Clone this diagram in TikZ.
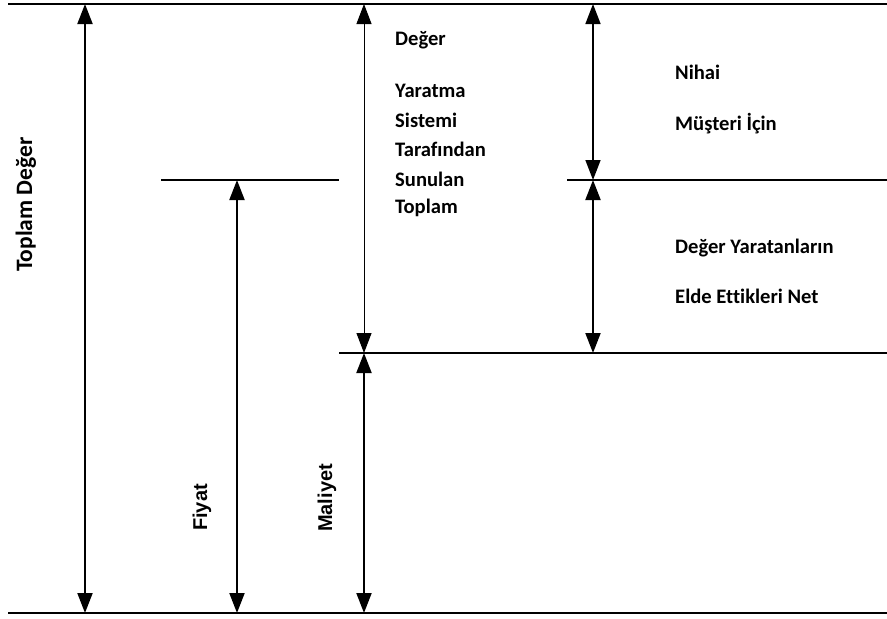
\documentclass[tikz,border=0pt]{standalone}
\usepackage{fontspec}
\setmainfont{Carlito}[Ligatures={NoCommon}]
\newfontfamily\arialf{Liberation Sans}
\usetikzlibrary{arrows.meta}
\begin{document}
\begin{tikzpicture}[x=1pt,y=-1pt,
  tip/.tip={Triangle[length=20pt,width=15pt]},
  dimthick/.style={tip-tip, line width=2pt},
  dimmid/.style={tip-tip, line width=1.5pt},
  dimthin/.style={tip-tip, line width=1pt},
  level/.style={line width=1.8pt},
  lbl/.style={font=\fontsize{20.6}{24}\selectfont\bfseries, anchor=base west, inner sep=0pt},
  bigrot/.style={font=\fontsize{23.5}{26}\selectfont\bfseries, anchor=base west, inner sep=0pt, rotate=90},
  arot/.style={font=\fontsize{20}{24}\arialf\bfseries, anchor=base west, inner sep=0pt, rotate=90}
]
\useasboundingbox (0,0) rectangle (887,619);
% level lines
\coordinate (topL) at (8,4);      \coordinate (topR) at (887,4);
\coordinate (botL) at (8,613);    \coordinate (botR) at (887,613);
\coordinate (priceL) at (161,180); \coordinate (priceR) at (339,180);
\coordinate (nihL) at (567,180);  \coordinate (nihR) at (887,180);
\coordinate (costL) at (339,353); \coordinate (costR) at (887,353);
\draw[level] (topL) -- (topR);
\draw[level] (botL) -- (botR);
\draw[level] (priceL) -- (priceR);
\draw[level] (nihL) -- (nihR);
\draw[level] (costL) -- (costR);
% arrow end points
\coordinate (a1t) at (85,4);   \coordinate (a1b) at (85,613);
\coordinate (a2t) at (237,180); \coordinate (a2b) at (237,613);
\coordinate (a3t) at (364,353); \coordinate (a3b) at (364,613);
\coordinate (a4t) at (364,4);   \coordinate (a4b) at (364,353);
\coordinate (a5t) at (593,4);   \coordinate (a5b) at (593,180);
\coordinate (a6t) at (593,180); \coordinate (a6b) at (593,353);
\draw[dimthick] (a1t) -- (a1b);
\draw[dimthick] (a2t) -- (a2b);
\draw[dimthick] (a3t) -- (a3b);
\draw[dimthin]  (a4t) -- (a4b);
\draw[dimmid]   (a5t) -- (a5b);
\draw[dimthick] (a6t) -- (a6b);
% labels
\node[bigrot] (tv) at (32,272) {Toplam Değer};
\node[arot] (fy) at (207,531) {Fiyat};
\node[arot] (ml) at (332,532) {Maliyet};
\node[lbl] (t1) at (395,45) {Değer};
\node[lbl] (t2) at (395,97) {Yaratma};
\node[lbl] (t3) at (395,127) {Sistemi};
\node[lbl] (t4) at (395,156) {Tarafından};
\node[lbl] (t5) at (395,186) {Sunulan};
\node[lbl] (t6) at (395,213) {Toplam};
\node[lbl] (n1) at (675,79) {Nihai};
\node[lbl] (n2) at (675,130) {Müşteri İçin};
\node[lbl] (d1) at (675,253) {Değer Yaratanların};
\node[lbl] (d2) at (675,303) {Elde Ettikleri Net};
\end{tikzpicture}
\end{document}
